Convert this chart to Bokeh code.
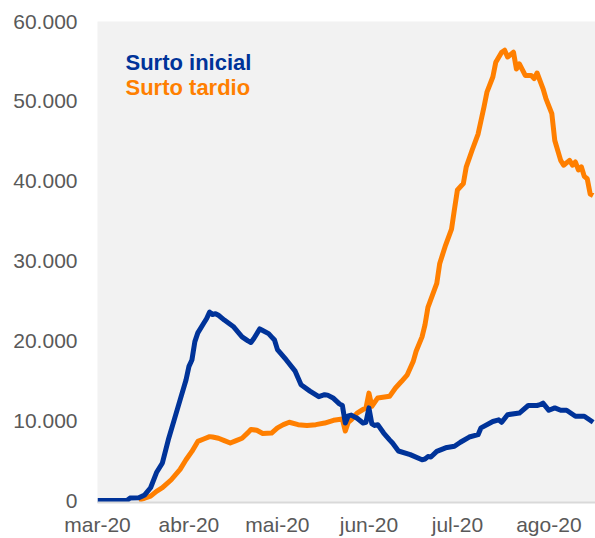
import pandas as pd
from bokeh.plotting import figure
from bokeh.models import Range1d, FixedTicker, Label
from bokeh.embed import file_html
from bokeh.resources import INLINE

start_date = "2020-03-01"

# Surto inicial (days since start_date, value)
ini_day = [0, 10, 11, 14, 16, 18, 20, 22, 24, 26, 28, 30, 31, 32, 33, 34, 36, 37, 38, 39, 40, 41,
           43, 46, 49, 51, 52, 53, 55, 56, 58, 59, 60, 61, 64, 67, 69, 72, 75, 77, 78, 80, 82, 83,
           84, 85, 86, 88, 90, 91, 92, 93, 94, 95, 97, 99, 100, 102, 106, 110, 111, 112, 113, 115,
           118, 121, 123, 126, 129, 130, 134, 136, 137, 139, 143, 146, 149, 150, 151, 153, 155,
           157, 159, 162, 165, 168]
ini_val = [0, 0, 300, 350, 700, 1600, 3500, 4700, 7600, 10100, 12600, 15100, 16800, 17600, 19900,
           21000, 22200, 22800, 23600, 23300, 23400, 23200, 22600, 21800, 20500, 20000, 19800,
           20300, 21500, 21300, 20900, 20500, 20100, 18900, 17600, 16200, 14500, 13700, 13000,
           13250, 13200, 12800, 12100, 11900, 9700, 10600, 10700, 10300, 9700, 9800, 11600, 9600,
           9400, 9500, 8450, 7600, 7200, 6200, 5750, 5100, 5200, 5500, 5450, 6150, 6600, 6800,
           7300, 7950, 8250, 9100, 9900, 10100, 9800, 10750, 10950, 11900, 11900, 12000, 12200,
           11300, 11600, 11300, 11300, 10550, 10550, 9800]

# Surto tardio
tar_day = [14, 16, 18, 20, 22, 25, 28, 30, 32, 34, 36, 38, 39, 41, 43, 45, 47, 49, 51, 52, 54, 56,
           59, 61, 63, 65, 68, 71, 74, 77, 80, 83, 84, 85, 86, 88, 90, 91, 92, 93, 95, 99, 101, 103,
           105, 107, 108, 110, 111, 112, 115, 116, 118, 120, 121, 122, 124, 125, 127, 129, 130, 131,
           132, 134, 135, 137, 138, 139, 141, 142, 143, 145, 147, 148, 149, 151, 152, 154, 155, 157,
           158, 160, 161, 162, 163, 164, 165, 166, 167, 168]
tar_val = [0, 300, 550, 1150, 1600, 2600, 3900, 5100, 6150, 7400, 7700, 8000, 7950, 7800, 7500,
           7200, 7500, 7800, 8500, 8900, 8800, 8400, 8450, 9100, 9500, 9800, 9500, 9400, 9500, 9700,
           10050, 10200, 8700, 9800, 10100, 10950, 11400, 11600, 13450, 11800, 12850, 13050, 14100,
           14900, 15750, 17400, 18700, 20500, 22000, 24200, 27200, 29700, 32000, 34000, 36500,
           38900, 39700, 41800, 43900, 45900, 47600, 49300, 51150, 53050, 54900, 56150, 56400,
           55550, 56150, 54050, 54700, 53250, 53250, 52850, 53550, 51600, 50350, 48450, 45100,
           42600, 42000, 42600, 42000, 42400, 41400, 41800, 40600, 40300, 38400, 38200]

month_starts = ["2020-03-01", "2020-04-01", "2020-05-01", "2020-06-01", "2020-07-01", "2020-08-01"]
month_labels = ["mar-20", "abr-20", "mai-20", "jun-20", "jul-20", "ago-20"]
y_ticks = [0, 10000, 20000, 30000, 40000, 50000, 60000]
y_labels = ["0", "10.000", "20.000", "30.000", "40.000", "50.000", "60.000"]

t0 = pd.Timestamp(start_date)
month_x = [(pd.Timestamp(d) - t0).days for d in month_starts]

BLUE = "#003399"
ORANGE = "#FF7F00"
FONT = "Liberation Sans"
GREY = "#595959"

p = figure(width=595, height=538, output_backend="svg", toolbar_location=None,
           x_range=Range1d(0, 168.8), y_range=Range1d(-250, 60000),
           min_border_left=97, min_border_right=0, min_border_top=21, min_border_bottom=35)
p.background_fill_color = "#F2F2F2"
p.border_fill_color = "white"
p.outline_line_color = None
p.xgrid.visible = False
p.ygrid.visible = False

p.line(tar_day, tar_val, line_color=ORANGE, line_width=5, line_join="round")
p.line(ini_day, ini_val, line_color=BLUE, line_width=5, line_join="round")

p.xaxis.ticker = FixedTicker(ticks=month_x)
p.xaxis.major_label_overrides = {x: l for x, l in zip(month_x, month_labels)}
p.xaxis.axis_line_color = "#D9D9D9"
p.xaxis.axis_line_width = 2
p.xaxis.major_tick_line_color = None
p.xaxis.minor_tick_line_color = None
p.xaxis.major_tick_out = 0
p.xaxis.major_label_standoff = 10

p.yaxis.ticker = FixedTicker(ticks=y_ticks)
p.yaxis.major_label_overrides = {v: l for v, l in zip(y_ticks, y_labels)}
p.yaxis.axis_line_color = None
p.yaxis.major_tick_line_color = None
p.yaxis.minor_tick_line_color = None
p.yaxis.major_tick_out = 0
p.yaxis.major_label_standoff = 20

for ax in (p.xaxis, p.yaxis):
    ax.major_label_text_font = FONT
    ax.major_label_text_font_size = "21px"
    ax.major_label_text_color = GREY

p.add_layout(Label(x=28, y=440, x_units="screen", y_units="screen", text="Surto inicial",
                   text_font=FONT, text_font_size="22px", text_font_style="bold",
                   text_color=BLUE, text_baseline="middle"))
p.add_layout(Label(x=28, y=415, x_units="screen", y_units="screen", text="Surto tardio",
                   text_font=FONT, text_font_size="22px", text_font_style="bold",
                   text_color=ORANGE, text_baseline="middle"))

open("out.html", "w").write(file_html(p, INLINE))
